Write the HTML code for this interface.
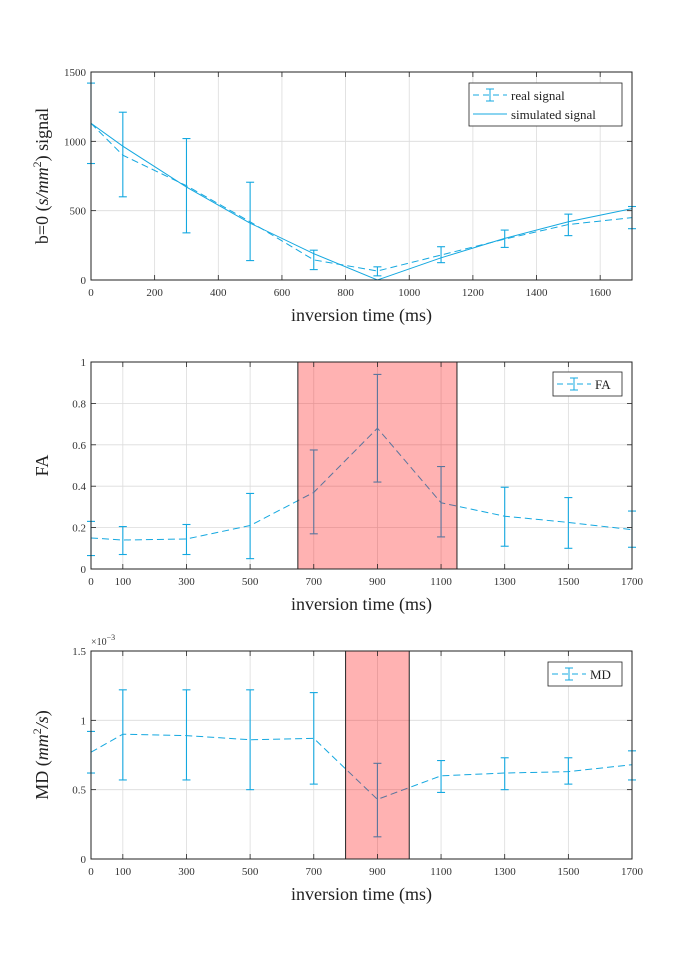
<!DOCTYPE html>
<html><head><meta charset="utf-8"><style>
body{margin:0;background:#fff;}
svg{display:block;font-family:"Liberation Serif",serif;}
</style></head><body>
<svg id="fig" width="700" height="966" viewBox="0 0 700 966" xmlns="http://www.w3.org/2000/svg"></svg>
<script>
const times = [0,100,300,500,700,900,1100,1300,1500,1700];
const realSignal = [1130,900,680,420,145,65,180,295,400,450];
const realLow = [840,600,340,140,75,30,125,235,320,370];
const realHigh = [1420,1210,1020,705,215,95,240,360,475,530];
const simSignal = [1130,965,670,410,190,0,160,300,420,515];
const faValues = [0.15,0.14,0.145,0.21,0.37,0.68,0.32,0.255,0.225,0.19];
const faLow = [0.065,0.07,0.07,0.05,0.17,0.42,0.155,0.11,0.10,0.105];
const faHigh = [0.23,0.205,0.215,0.365,0.575,0.94,0.495,0.395,0.345,0.28];
const mdValues = [0.77,0.90,0.89,0.86,0.87,0.43,0.60,0.62,0.63,0.68];
const mdLow = [0.62,0.57,0.57,0.50,0.54,0.16,0.48,0.50,0.54,0.57];
const mdHigh = [0.92,1.22,1.22,1.22,1.20,0.69,0.71,0.73,0.73,0.78];
const xTicks1 = [0,200,400,600,800,1000,1200,1400,1600];
const xTicks2 = [0,100,300,500,700,900,1100,1300,1500,1700];
const yTicks1 = [0,500,1000,1500];
const yTicks2 = [0,0.2,0.4,0.6,0.8,1];
const yTicks2Labels = ['0','0.2','0.4','0.6','0.8','1'];
const yTicks3 = [0,0.5,1,1.5];
const yTicks3Labels = ['0','0.5','1','1.5'];
const faRegion = [650,1150];
const mdRegion = [800,1000];

const NS='http://www.w3.org/2000/svg';
const svg=document.getElementById('fig');
const C='#14a8e0';
function mk(tag,attrs,parent,text){const e=document.createElementNS(NS,tag);for(const k in attrs)e.setAttribute(k,attrs[k]);if(text!==undefined)e.textContent=text;(parent||svg).appendChild(e);return e;}
const X0=91,X1=632;
const xs=v=>X0+(v/1700)*(X1-X0);

function axes(name,top,bot,ymax,xt,yt,ytl,ylab,multi){
  const g=mk('g',{});
  
  
  const ys=v=>bot-(v/ymax)*(bot-top);
  // grid
  xt.forEach(t=>{const l=mk('line',{x1:xs(t),x2:xs(t),y1:top,y2:bot,stroke:'#dcdcdc','stroke-width':0.8},g);});
  yt.forEach(t=>{const l=mk('line',{x1:X0,x2:X1,y1:ys(t),y2:ys(t),stroke:'#dcdcdc','stroke-width':0.8},g);});
  return {g,ys,finish(){
    const r=mk('rect',{x:X0,y:top,width:X1-X0,height:bot-top,fill:'none',stroke:'#222','stroke-width':1},g);
    
    xt.forEach(t=>{mk('line',{x1:xs(t),x2:xs(t),y1:bot,y2:bot-5,stroke:'#222','stroke-width':0.8},g);mk('line',{x1:xs(t),x2:xs(t),y1:top,y2:top+5,stroke:'#222','stroke-width':0.8},g);
      const tx=mk('text',{x:xs(t),y:bot+16,'text-anchor':'middle','font-size':11,fill:'#333'},g,String(t));});
    yt.forEach((t,i)=>{mk('line',{x1:X0,x2:X0+5,y1:ys(t),y2:ys(t),stroke:'#222','stroke-width':0.8},g);mk('line',{x1:X1,x2:X1-5,y1:ys(t),y2:ys(t),stroke:'#222','stroke-width':0.8},g);
      const tx=mk('text',{x:X0-5,y:ys(t)+4,'text-anchor':'end','font-size':11,fill:'#333'},g,ytl[i]);});
    const xl=mk('text',{x:(X0+X1)/2,y:bot+41,'text-anchor':'middle','font-size':18,fill:'#222'},g,'inversion time (ms)');
    
    const yl=mk('text',{x:0,y:0,'text-anchor':'middle','font-size':18,fill:'#222',transform:`translate(48,${(top+bot)/2}) rotate(-90)`},g);
    
    ylab(yl);
  }};
}
function series(g,ys,vals,lo,hi,dash,name){
  const pts=times.map((t,i)=>xs(t)+','+ys(vals[i])).join(' ');
  const p=mk('polyline',{points:pts,fill:'none',stroke:C,'stroke-width':1,'stroke-dasharray':dash||'none'},g);
  
  if(lo){times.forEach((t,i)=>{const x=xs(t);const e=mk('g',{stroke:C,'stroke-width':1.1},g);
    
    mk('line',{x1:x,x2:x,y1:ys(lo[i]),y2:ys(hi[i])},e);
    mk('line',{x1:x-4,x2:x+4,y1:ys(lo[i]),y2:ys(lo[i])},e);
    mk('line',{x1:x-4,x2:x+4,y1:ys(hi[i]),y2:ys(hi[i])},e);});}
}
function legend(g,x,y,w,entries){
  const h=entries.length*19+5;
  const lg=mk('g',{},g);
  mk('rect',{x:x,y:y,width:w,height:h,fill:'#fff',stroke:'#222','stroke-width':0.8},lg);
  entries.forEach((e,i)=>{const cy=y+12+i*19;
    mk('line',{x1:x+4,x2:x+38,y1:cy,y2:cy,stroke:C,'stroke-width':1,'stroke-dasharray':e.dash?'6,4':'none'},lg);
    if(e.eb){mk('line',{x1:x+21,x2:x+21,y1:cy-6,y2:cy+6,stroke:C},lg);mk('line',{x1:x+17,x2:x+25,y1:cy-6,y2:cy-6,stroke:C},lg);mk('line',{x1:x+17,x2:x+25,y1:cy+6,y2:cy+6,stroke:C},lg);}
    const t=mk('text',{x:x+42,y:cy+5,'font-size':13,fill:'#222'},lg,e.label);});
}
function region(g,ys,r,ymax){
  const re=mk('rect',{x:xs(r[0]),y:ys(ymax),width:xs(r[1])-xs(r[0]),height:ys(0)-ys(ymax),fill:'rgba(255,0,0,0.3)',stroke:'#222','stroke-width':1},g);
  
}
// plot 1
let a=axes('signal-plot',72,280,1500,xTicks1,yTicks1,yTicks1.map(String),yl=>{
  mk('tspan',{},yl,'b=0 (');mk('tspan',{'font-style':'italic'},yl,'s/mm');mk('tspan',{dy:-7,'font-size':12},yl,'2');mk('tspan',{dy:7},yl,') signal');});
series(a.g,a.ys,simSignal,null,null,null,'simulated-signal-line');
series(a.g,a.ys,realSignal,realLow,realHigh,'7,4','real-signal-line');
a.finish();
legend(a.g,469,83,153,[{label:'real signal',dash:1,eb:1},{label:'simulated signal'}]);
// plot 2
a=axes('fa-plot',362,569,1,xTicks2,yTicks2,yTicks2Labels,yl=>{yl.textContent='FA';});
series(a.g,a.ys,faValues,faLow,faHigh,'7,4','fa-line');
region(a.g,a.ys,faRegion,1);
a.finish();
legend(a.g,553,372,69,[{label:'FA',dash:1,eb:1}]);
// plot 3
a=axes('md-plot',651,859,1.5,xTicks2,yTicks3,yTicks3Labels,yl=>{
  mk('tspan',{},yl,'MD (');mk('tspan',{'font-style':'italic'},yl,'mm');mk('tspan',{dy:-7,'font-size':12},yl,'2');mk('tspan',{dy:7,'font-style':'italic'},yl,'/s');mk('tspan',{},yl,')');});
series(a.g,a.ys,mdValues,mdLow,mdHigh,'7,4','md-line');
region(a.g,a.ys,mdRegion,1.5);
a.finish();
legend(a.g,548,662,74,[{label:'MD',dash:1,eb:1}]);
const ex=mk('text',{x:91,y:645,'font-size':10,fill:'#333'});


mk('tspan',{},ex,'×10');mk('tspan',{dy:-5,'font-size':8},ex,'−3');
</script>
</body></html>
